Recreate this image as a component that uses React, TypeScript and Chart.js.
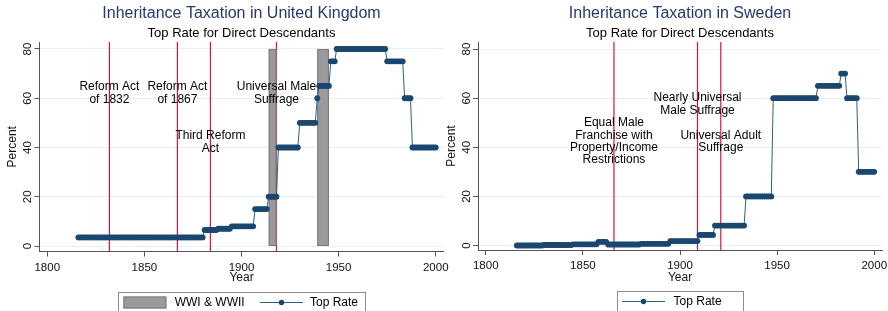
import React, { useEffect, useRef } from 'react';
import { Chart, registerables } from 'chart.js';

Chart.register(...registerables);

// ---------- DATA ----------
const YEARS = [
  1816, 1817, 1818, 1819, 1820, 1821, 1822, 1823, 1824, 1825,
  1826, 1827, 1828, 1829, 1830, 1831, 1832, 1833, 1834, 1835,
  1836, 1837, 1838, 1839, 1840, 1841, 1842, 1843, 1844, 1845,
  1846, 1847, 1848, 1849, 1850, 1851, 1852, 1853, 1854, 1855,
  1856, 1857, 1858, 1859, 1860, 1861, 1862, 1863, 1864, 1865,
  1866, 1867, 1868, 1869, 1870, 1871, 1872, 1873, 1874, 1875,
  1876, 1877, 1878, 1879, 1880, 1881, 1882, 1883, 1884, 1885,
  1886, 1887, 1888, 1889, 1890, 1891, 1892, 1893, 1894, 1895,
  1896, 1897, 1898, 1899, 1900, 1901, 1902, 1903, 1904, 1905,
  1906, 1907, 1908, 1909, 1910, 1911, 1912, 1913, 1914, 1915,
  1916, 1917, 1918, 1919, 1920, 1921, 1922, 1923, 1924, 1925,
  1926, 1927, 1928, 1929, 1930, 1931, 1932, 1933, 1934, 1935,
  1936, 1937, 1938, 1939, 1940, 1941, 1942, 1943, 1944, 1945,
  1946, 1947, 1948, 1949, 1950, 1951, 1952, 1953, 1954, 1955,
  1956, 1957, 1958, 1959, 1960, 1961, 1962, 1963, 1964, 1965,
  1966, 1967, 1968, 1969, 1970, 1971, 1972, 1973, 1974, 1975,
  1976, 1977, 1978, 1979, 1980, 1981, 1982, 1983, 1984, 1985,
  1986, 1987, 1988, 1989, 1990, 1991, 1992, 1993, 1994, 1995,
  1996, 1997, 1998, 1999, 2000,
];

const UK_TOP_RATE = [
  3.5, 3.5, 3.5, 3.5, 3.5, 3.5, 3.5, 3.5, 3.5, 3.5,
  3.5, 3.5, 3.5, 3.5, 3.5, 3.5, 3.5, 3.5, 3.5, 3.5,
  3.5, 3.5, 3.5, 3.5, 3.5, 3.5, 3.5, 3.5, 3.5, 3.5,
  3.5, 3.5, 3.5, 3.5, 3.5, 3.5, 3.5, 3.5, 3.5, 3.5,
  3.5, 3.5, 3.5, 3.5, 3.5, 3.5, 3.5, 3.5, 3.5, 3.5,
  3.5, 3.5, 3.5, 3.5, 3.5, 3.5, 3.5, 3.5, 3.5, 3.5,
  3.5, 3.5, 3.5, 3.5, 3.5, 6.5, 6.5, 6.5, 6.5, 6.5,
  6.5, 6.5, 7, 7, 7, 7, 7, 7, 7, 8,
  8, 8, 8, 8, 8, 8, 8, 8, 8, 8,
  8, 15, 15, 15, 15, 15, 15, 15, 20, 20,
  20, 20, 20, 40, 40, 40, 40, 40, 40, 40,
  40, 40, 40, 40, 50, 50, 50, 50, 50, 50,
  50, 50, 50, 60, 65, 65, 65, 65, 65, 65,
  75, 75, 75, 80, 80, 80, 80, 80, 80, 80,
  80, 80, 80, 80, 80, 80, 80, 80, 80, 80,
  80, 80, 80, 80, 80, 80, 80, 80, 80, 75,
  75, 75, 75, 75, 75, 75, 75, 75, 60, 60,
  60, 60, 40, 40, 40, 40, 40, 40, 40, 40,
  40, 40, 40, 40, 40,
];

const SE_TOP_RATE = [
  0, 0, 0, 0, 0, 0, 0, 0, 0, 0,
  0, 0, 0, 0, 0.2, 0.2, 0.2, 0.2, 0.2, 0.2,
  0.2, 0.2, 0.2, 0.2, 0.2, 0.2, 0.2, 0.2, 0.2, 0.5,
  0.5, 0.5, 0.5, 0.5, 0.5, 0.5, 0.5, 0.5, 0.5, 0.5,
  0.5, 0.5, 1.5, 1.5, 1.5, 1.5, 1.5, 0.4, 0.4, 0.4,
  0.4, 0.4, 0.4, 0.4, 0.4, 0.4, 0.4, 0.4, 0.4, 0.4,
  0.4, 0.4, 0.4, 0.4, 0.7, 0.7, 0.7, 0.7, 0.7, 0.7,
  0.7, 0.7, 0.7, 0.7, 0.7, 0.7, 0.7, 0.7, 0.7, 1.8,
  1.8, 1.8, 1.8, 1.8, 1.8, 1.8, 1.8, 1.8, 1.8, 1.8,
  1.8, 1.8, 1.8, 1.8, 4.3, 4.3, 4.3, 4.3, 4.3, 4.3,
  4.3, 4.3, 8.1, 8.1, 8.1, 8.1, 8.1, 8.1, 8.1, 8.1,
  8.1, 8.1, 8.1, 8.1, 8.1, 8.1, 8.1, 8.1, 20, 20,
  20, 20, 20, 20, 20, 20, 20, 20, 20, 20,
  20, 20, 60, 60, 60, 60, 60, 60, 60, 60,
  60, 60, 60, 60, 60, 60, 60, 60, 60, 60,
  60, 60, 60, 60, 60, 65, 65, 65, 65, 65,
  65, 65, 65, 65, 65, 65, 65, 70, 70, 70,
  60, 60, 60, 60, 60, 60, 30, 30, 30, 30,
  30, 30, 30, 30, 30,
];

const UK_EVENT_YEARS = [1832, 1867, 1884, 1918];
const UK_EVENT_LABELS = [
  ['Reform Act', 'of 1832'],
  ['Reform Act', 'of 1867'],
  ['Third Reform', 'Act'],
  ['Universal Male', 'Suffrage'],
];
const UK_EVENT_LABEL_Y = [64.6, 64.6, 44.7, 64.6];

const SE_EVENT_YEARS = [1866, 1909, 1921];
const SE_EVENT_LABELS = [
  ['Equal Male', 'Franchise with', 'Property/Income', 'Restrictions'],
  ['Nearly Universal', 'Male Suffrage'],
  ['Universal Adult', 'Suffrage'],
];
const SE_EVENT_LABEL_Y = [49.8, 60.0, 44.7];

const WAR_START = [1914, 1939];
const WAR_END = [1918, 1945];
const WAR_LOW = [0, 0];
const WAR_HIGH = [80, 80];

const Y_STEP = 20;
const X_STEP = 50;

// ---------- STYLE ----------
const FONT = '"Liberation Sans", Arial, Helvetica, sans-serif';
const NAVY = '#1a476f';
const LINE = '#2f5d8a';
const RED = '#d4173f';
const AXIS = '#555555';
const GRID = '#e8f0f2';
const TITLE_COLOR = '#26396a';

type LegendItem = { kind: 'bar' | 'line'; text: string; keyX: number; textX: number };

type PanelCfg = {
  title: string;
  subtitle: string;
  values: number[];
  eventYears: number[];
  eventLabels: string[][];
  eventLabelY: number[];
  showWars: boolean;
  left: number;
  canvasWidth: number;
  padRight: number;
  yWidth: number;
  xHeight: number;
  yMin: number;
  yMax: number;
  yTitlePad: number;
  legendTop: number;
  legendWidth: number;
  legendItems: LegendItem[];
};

function makeOverlay(cfg: PanelCfg) {
  return {
    id: 'overlay',
    beforeDatasetsDraw(chart: any) {
      const { ctx, chartArea: a, scales } = chart;
      const x = scales.x;
      const y = scales.y;
      ctx.save();
      ctx.beginPath();
      ctx.rect(a.left, a.top, a.right - a.left, a.bottom - a.top);
      ctx.clip();
      // event lines
      ctx.strokeStyle = RED;
      ctx.lineWidth = 1.2;
      cfg.eventYears.forEach((yr) => {
        const px = x.getPixelForValue(yr);
        ctx.beginPath();
        ctx.moveTo(px, a.top);
        ctx.lineTo(px, a.bottom);
        ctx.stroke();
      });
      // war bars
      if (cfg.showWars) {
        WAR_START.forEach((s, i) => {
          const x0 = x.getPixelForValue(s);
          const x1 = x.getPixelForValue(WAR_END[i]);
          const y0 = y.getPixelForValue(WAR_HIGH[i]);
          const y1 = y.getPixelForValue(WAR_LOW[i]);
          ctx.fillStyle = '#9a9a9a';
          ctx.fillRect(x0, y0, x1 - x0, y1 - y0);
          ctx.strokeStyle = '#7a7a7a';
          ctx.lineWidth = 1;
          ctx.strokeRect(x0 + 0.5, y0 + 0.5, x1 - x0 - 1, y1 - y0 - 1);
        });
      }
      ctx.restore();
      // annotation labels
      ctx.save();
      ctx.fillStyle = '#000';
      ctx.font = `12px ${FONT}`;
      ctx.textAlign = 'center';
      ctx.textBaseline = 'middle';
      cfg.eventLabels.forEach((lines, i) => {
        const px = x.getPixelForValue(cfg.eventYears[i]);
        const py = y.getPixelForValue(cfg.eventLabelY[i]);
        lines.forEach((t, k) => ctx.fillText(t, px, py + k * 12.3));
      });
      ctx.restore();
    },
    afterDraw(chart: any) {
      const { ctx, chartArea: a, scales } = chart;
      const y = scales.y;
      const cx = (a.left + a.right) / 2;
      ctx.save();
      // titles
      ctx.textAlign = 'center';
      ctx.textBaseline = 'middle';
      ctx.fillStyle = TITLE_COLOR;
      ctx.font = `16px ${FONT}`;
      ctx.fillText(cfg.title, cx, 14);
      ctx.fillStyle = '#000';
      ctx.font = `13px ${FONT}`;
      ctx.fillText(cfg.subtitle, cx, 33.3);
      // rotated y tick labels
      ctx.font = `11.5px ${FONT}`;
      ctx.fillStyle = '#111';
      y.ticks.forEach((t: any) => {
        const py = y.getPixelForValue(t.value);
        ctx.save();
        ctx.translate(a.left - 11.5, py);
        ctx.rotate(-Math.PI / 2);
        ctx.fillText(String(t.value), 0, 0);
        ctx.restore();
      });
      // legend
      const bx = cx - cfg.legendWidth / 2;
      const top = cfg.legendTop;
      ctx.strokeStyle = '#8c8c8c';
      ctx.lineWidth = 1;
      ctx.strokeRect(Math.round(bx) + 0.5, Math.round(top) + 0.5, cfg.legendWidth, 40);
      const midY = top + 10.5;
      ctx.font = `12px ${FONT}`;
      ctx.textAlign = 'left';
      ctx.fillStyle = '#000';
      cfg.legendItems.forEach((it) => {
        const kx = bx + it.keyX;
        if (it.kind === 'bar') {
          ctx.fillStyle = '#9a9a9a';
          ctx.fillRect(kx, midY - 6, 43, 12);
          ctx.strokeStyle = '#7a7a7a';
          ctx.strokeRect(kx + 0.5, midY - 5.5, 42, 11);
        } else {
          ctx.strokeStyle = LINE;
          ctx.lineWidth = 1.2;
          ctx.beginPath();
          ctx.moveTo(kx, midY);
          ctx.lineTo(kx + 43, midY);
          ctx.stroke();
          ctx.fillStyle = NAVY;
          ctx.beginPath();
          ctx.arc(kx + 21.5, midY, 2.7, 0, Math.PI * 2);
          ctx.fill();
        }
        ctx.fillStyle = '#000';
        ctx.fillText(it.text, bx + it.textX, midY);
      });
      ctx.restore();
    },
  };
}

function Panel({ cfg }: { cfg: PanelCfg }) {
  const ref = useRef<HTMLCanvasElement | null>(null);
  useEffect(() => {
    if (!ref.current) return;
    const points = YEARS.map((yr, i) => ({ x: yr, y: cfg.values[i] }));
    const chart = new Chart(ref.current, {
      type: 'line',
      data: {
        datasets: [
          {
            label: 'Top Rate',
            data: points,
            borderColor: LINE,
            borderWidth: 1,
            pointRadius: 2.9,
            pointBorderWidth: 0,
            pointBackgroundColor: NAVY,
            pointBorderColor: NAVY,
            fill: false,
            tension: 0,
          },
        ],
      },
      options: {
        animation: false,
        responsive: false,
        devicePixelRatio: 1,
        events: [],
        layout: { padding: { left: 0, right: cfg.padRight, top: 42, bottom: 0 } },
        plugins: {
          legend: { display: false },
          title: { display: false },
          tooltip: { enabled: false },
        },
        scales: {
          x: {
            type: 'linear',
            position: 'bottom',
            min: 1796,
            max: 2004,
            afterFit: (s: any) => {
              s.height = cfg.xHeight;
            },
            ticks: {
              stepSize: X_STEP,
              includeBounds: false,
              autoSkip: false,
              maxRotation: 0,
              minRotation: 0,
              padding: 4,
              color: '#111',
              font: { family: FONT, size: 11.5 },
              callback: (v: any) => String(v),
            },
            grid: {
              drawOnChartArea: false,
              drawTicks: true,
              tickLength: 5,
              color: AXIS,
              tickColor: AXIS,
            },
            border: { display: true, color: AXIS, width: 1 },
            title: {
              display: true,
              text: 'Year',
              color: '#111',
              font: { family: FONT, size: 12 },
              padding: { top: 0, bottom: 26.5 },
            },
          },
          y: {
            type: 'linear',
            min: cfg.yMin,
            max: cfg.yMax,
            afterFit: (s: any) => {
              s.width = cfg.yWidth;
            },
            ticks: { display: false, stepSize: Y_STEP, includeBounds: false },
            grid: {
              drawOnChartArea: true,
              drawTicks: true,
              tickLength: 5,
              color: GRID,
              tickColor: AXIS,
              lineWidth: 1,
            },
            border: { display: true, color: AXIS, width: 1 },
            title: {
              display: true,
              text: 'Percent',
              color: '#111',
              font: { family: FONT, size: 12 },
              padding: { top: cfg.yTitlePad, bottom: 0 },
            },
          },
        },
      } as any,
      plugins: [makeOverlay(cfg)],
    });
    return () => chart.destroy();
  }, [cfg]);
  return (
    <canvas
      ref={ref}
      width={cfg.canvasWidth}
      height={311}
      style={{ position: 'absolute', left: cfg.left, top: 0, width: cfg.canvasWidth, height: 311 }}
    />
  );
}

const UK_CFG: PanelCfg = {
  title: 'Inheritance Taxation in United Kingdom',
  subtitle: 'Top Rate for Direct Descendants',
  values: UK_TOP_RATE,
  eventYears: UK_EVENT_YEARS,
  eventLabels: UK_EVENT_LABELS,
  eventLabelY: UK_EVENT_LABEL_Y,
  showWars: true,
  left: 0,
  canvasWidth: 460,
  padRight: 16.5,
  yWidth: 39.5,
  xHeight: 59.5,
  yMin: -2.23,
  yMax: 82.84,
  yTitlePad: 5.3,
  legendTop: 292,
  legendWidth: 247,
  legendItems: [
    { kind: 'bar', text: 'WWI & WWII', keyX: 5.4, textX: 56.7 },
    { kind: 'line', text: 'Top Rate', keyX: 142, textX: 192 },
  ],
};

const SE_CFG: PanelCfg = {
  title: 'Inheritance Taxation in Sweden',
  subtitle: 'Top Rate for Direct Descendants',
  values: SE_TOP_RATE,
  eventYears: SE_EVENT_YEARS,
  eventLabels: SE_EVENT_LABELS,
  eventLabelY: SE_EVENT_LABEL_Y,
  showWars: false,
  left: 444,
  canvasWidth: 460,
  padRight: 22,
  yWidth: 34,
  xHeight: 61,
  yMin: -1.83,
  yMax: 82.85,
  yTitlePad: 0.8,
  legendTop: 291,
  legendWidth: 126,
  legendItems: [{ kind: 'line', text: 'Top Rate', keyX: 5, textX: 56.6 }],
};

export default function App() {
  return (
    <div
      style={{
        position: 'fixed',
        left: 0,
        top: 0,
        width: 888,
        height: 311,
        overflow: 'hidden',
        background: '#fff',
      }}
    >
      <Panel cfg={UK_CFG} />
      <Panel cfg={SE_CFG} />
    </div>
  );
}
